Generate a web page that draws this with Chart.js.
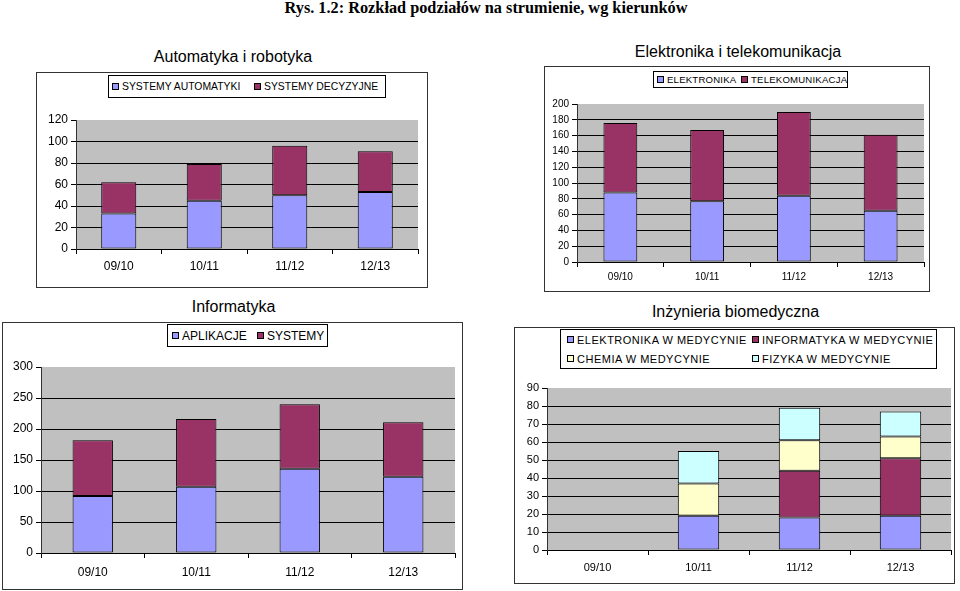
<!DOCTYPE html>
<html>
<head>
<meta charset="utf-8">
<script src="https://cdn.jsdelivr.net/npm/chart.js@4.4.0/dist/chart.umd.min.js"></script>
<style>
  body { margin: 0; background: #fff; width: 960px; height: 591px; position: relative; overflow: hidden; font-family: "Liberation Sans", Arial, sans-serif; }
  .tytul-glowny { position: absolute; left: 0; top: -1px; width: 972px; text-align: center; font: bold 16.3px "Liberation Serif", "Times New Roman", serif; line-height: 18px; }
  .tytul { position: absolute; text-align: center; font-size: 16px; line-height: 18px; color: #000; }
  .ramka { position: absolute; border: 1px solid #333; background: #fff; }
  .ramka canvas { position: absolute; left: 0; top: 0; }
  .legenda { position: absolute; border: 1px solid #000; background: #fff; display: flex; align-items: center; box-sizing: border-box; color: #000; overflow: hidden; }
  .legenda .el { display: flex; align-items: center; white-space: nowrap; }
  .legenda .kw { width: 5px; height: 5px; border: 1px solid #000; margin-right: 3px; flex: none; }
</style>
</head>
<body>
<div class="tytul-glowny">Rys. 1.2: Rozkład podziałów na strumienie, wg kierunków</div>

<div class="tytul" style="left:36px;top:48px;width:394px;">Automatyka i robotyka</div>
<div class="ramka" style="left:36px;top:72px;width:390px;height:214px;"><canvas id="wykres1"></canvas></div>
<div class="legenda" id="leg1" style="left:108px;top:75px;width:278px;height:23px;font-size:10.4px;padding-left:3px;"></div>

<div class="tytul" style="left:544px;top:43px;width:388px;">Elektronika i telekomunikacja</div>
<div class="ramka" style="left:544px;top:66px;width:384px;height:224px;"><canvas id="wykres2"></canvas></div>
<div class="legenda" id="leg2" style="left:653px;top:71px;width:195px;height:17px;font-size:9.6px;letter-spacing:0.2px;padding-left:3px;"></div>

<div class="tytul" style="left:2px;top:298px;width:463px;">Informatyka</div>
<div class="ramka" style="left:2px;top:322px;width:459px;height:266px;"><canvas id="wykres3"></canvas></div>
<div class="legenda" id="leg3" style="left:167px;top:324px;width:161px;height:23px;font-size:12px;padding-left:4px;"></div>

<div class="tytul" style="left:514px;top:303px;width:443px;">Inżynieria biomedyczna</div>
<div class="ramka" style="left:514px;top:327px;width:439px;height:255px;"><canvas id="wykres4"></canvas></div>
<div class="legenda" id="leg4" style="left:560px;top:329px;width:377px;height:40px;font-size:11px;letter-spacing:0.5px;padding-left:6px;flex-wrap:wrap;align-content:space-around;"></div>

<script>
// lata akademickie
const lata = ["09/10", "10/11", "11/12", "12/13"];

// Automatyka i robotyka
const systemyAutomatyki = [33, 45, 50, 53];
const systemyDecyzyjne = [29, 34, 46, 38];

// Elektronika i telekomunikacja
const elektronika = [88, 77, 84, 65];
const telekomunikacja = [88, 90, 106, 96];

// Informatyka
const aplikacje = [92, 107, 136, 123];
const systemy = [90, 109, 104, 88];

// Inżynieria biomedyczna (brak naboru w 09/10)
const elektronikaWMedycynie = [null, 19, 18, 19];
const informatykaWMedycynie = [null, null, 26, 32];
const chemiaWMedycynie = [null, 18, 17, 12];
const fizykaWMedycynie = [null, 18, 18, 14];

const NIEBIESKI = "#9999ff";
const BORDOWY = "#993366";
const ZOLTY = "#ffffcc";
const BLEKITNY = "#ccffff";

// szare tlo obszaru wykresu
const tloWykresu = {
    id: "tloWykresu",
    beforeDraw(chart) {
        const a = chart.chartArea;
        const ctx = chart.ctx;
        ctx.save();
        ctx.fillStyle = "#c0c0c0";
        ctx.fillRect(a.left, a.top, a.right - a.left, a.bottom - a.top);
        ctx.restore();
    }
};

function seria(etykieta, dane, kolor) {
    return {
        label: etykieta,
        data: dane,
        backgroundColor: kolor,
        borderColor: "#000",
        borderWidth: 1,
        borderSkipped: false
    };
}

function zrobLegende(id, serie, szerokosci) {
    const el = document.getElementById(id);
    serie.forEach((s, i) => {
        const poz = document.createElement("div");
        poz.className = "el";
        if (szerokosci) poz.style.width = szerokosci[i] + "px";
        poz.innerHTML = '<span class="kw" style="background:' + s.backgroundColor + '"></span>' + s.label;
        el.appendChild(poz);
    });
}

function zrobWykres(id, serie, opcje) {
    const font = { family: "'Liberation Sans', Arial, sans-serif", size: opcje.font };
    return new Chart(document.getElementById(id), {
        type: "bar",
        data: { labels: lata, datasets: serie },
        plugins: [tloWykresu],
        options: {
            responsive: true,
            maintainAspectRatio: false,
            animation: false,
            datasets: { bar: { categoryPercentage: 1, barPercentage: opcje.szerSlupka } },
            layout: { padding: { left: 0, right: opcje.prawo, top: opcje.gora, bottom: 0 } },
            plugins: { legend: { display: false }, tooltip: { enabled: false } },
            scales: {
                x: {
                    stacked: true,
                    grid: { offset: true, drawOnChartArea: false, color: "#000", tickLength: 5 },
                    border: { color: "#000" },
                    ticks: { color: "#000", font: font, padding: opcje.padX, maxRotation: 0 },
                    afterFit(s) { s.height = opcje.dol; }
                },
                y: {
                    stacked: true,
                    min: 0,
                    max: opcje.max,
                    ticks: { stepSize: opcje.krok, color: "#000", font: font, padding: 3 },
                    grid: {
                        color: c => (c.tick && c.tick.value === opcje.max) ? "rgba(0,0,0,0)" : "#000",
                        tickColor: "#000",
                        tickLength: 5
                    },
                    border: { color: "#333" },
                    afterFit(s) { s.width = opcje.lewo; }
                }
            }
        }
    });
}

const serie1 = [seria("SYSTEMY AUTOMATYKI", systemyAutomatyki, NIEBIESKI), seria("SYSTEMY DECYZYJNE", systemyDecyzyjne, BORDOWY)];
const serie2 = [seria("ELEKTRONIKA", elektronika, NIEBIESKI), seria("TELEKOMUNIKACJA", telekomunikacja, BORDOWY)];
const serie3 = [seria("APLIKACJE", aplikacje, NIEBIESKI), seria("SYSTEMY", systemy, BORDOWY)];
const serie4 = [
    seria("ELEKTRONIKA  W MEDYCYNIE", elektronikaWMedycynie, NIEBIESKI),
    seria("INFORMATYKA  W MEDYCYNIE", informatykaWMedycynie, BORDOWY),
    seria("CHEMIA W MEDYCYNIE", chemiaWMedycynie, ZOLTY),
    seria("FIZYKA  W MEDYCYNIE", fizykaWMedycynie, BLEKITNY)
];

zrobLegende("leg1", serie1, [142, 130]);
zrobLegende("leg2", serie2, [84, 105]);
zrobLegende("leg3", serie3, [85, 70]);
zrobLegende("leg4", serie4, [185, 180, 185, 180]);

zrobWykres("wykres1", serie1, { max: 120, krok: 20, font: 12, szerSlupka: 0.41, lewo: 39, prawo: 9, gora: 47, dol: 38, padX: 5 });
zrobWykres("wykres2", serie2, { max: 200, krok: 20, font: 10, szerSlupka: 0.39, lewo: 32, prawo: 5, gora: 37, dol: 29, padX: 4 });
zrobWykres("wykres3", serie3, { max: 300, krok: 50, font: 12, szerSlupka: 0.39, lewo: 38, prawo: 7, gora: 44, dol: 36, padX: 7 });
zrobWykres("wykres4", serie4, { max: 90, krok: 10, font: 11, szerSlupka: 0.41, lewo: 32, prawo: 3, gora: 60, dol: 33, padX: 6 });
</script>
</body>
</html>
